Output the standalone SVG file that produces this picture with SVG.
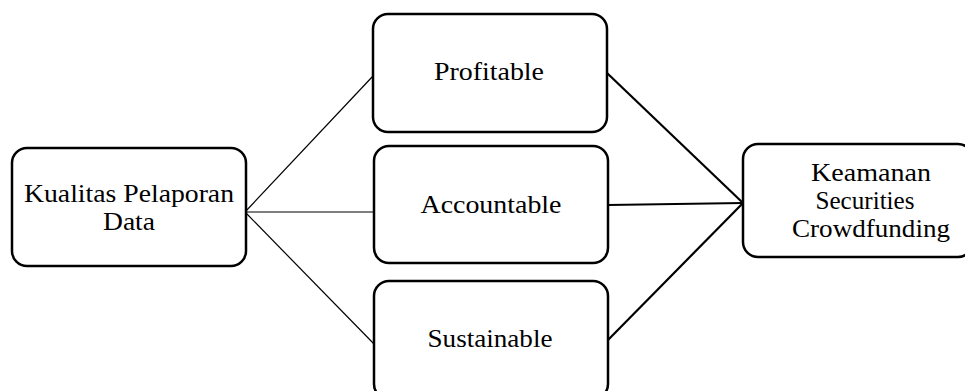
<svg xmlns="http://www.w3.org/2000/svg" width="965" height="391" viewBox="0 0 965 391">
<style>
.box{fill:#fff;stroke:#000;stroke-width:2.5}
.t{font-family:"Liberation Serif","Times New Roman",serif;font-size:26px;fill:#000;text-anchor:middle}
.thin{stroke:#000;stroke-width:1.2;fill:none}
.thick{stroke:#000;stroke-width:2.2;fill:none}
</style>
<rect width="965" height="391" fill="#fff"/>
<g id="connectors">
<line class="thin" x1="245" y1="212" x2="373" y2="76"/>
<line class="thin" x1="245" y1="212" x2="374" y2="212"/>
<line class="thin" x1="245" y1="212" x2="376" y2="346"/>
<line class="thick" x1="607" y1="73" x2="743" y2="203"/>
<line class="thick" x1="608" y1="205" x2="743" y2="203"/>
<line class="thick" x1="608" y1="340" x2="743" y2="203"/>
</g>
<g id="kualitas">
<rect class="box" x="12" y="148" width="234" height="118" rx="15"/>
<text class="t" x="129" y="202" textLength="210" lengthAdjust="spacingAndGlyphs">Kualitas Pelaporan</text>
<text class="t" x="129" y="230" textLength="52" lengthAdjust="spacingAndGlyphs">Data</text>
</g>
<g id="profitable">
<rect class="box" x="373" y="14" width="234" height="118" rx="15"/>
<text class="t" x="489" y="80" textLength="110" lengthAdjust="spacingAndGlyphs">Profitable</text>
</g>
<g id="accountable">
<rect class="box" x="374" y="146" width="234" height="117" rx="15"/>
<text class="t" x="491" y="213" textLength="141" lengthAdjust="spacingAndGlyphs">Accountable</text>
</g>
<g id="sustainable">
<rect class="box" x="374" y="281" width="234" height="118" rx="15"/>
<text class="t" x="490" y="347" textLength="125" lengthAdjust="spacingAndGlyphs">Sustainable</text>
</g>
<g id="keamanan">
<rect class="box" x="743" y="144" width="230" height="113" rx="15"/>
<text class="t" x="871" y="181" textLength="120" lengthAdjust="spacingAndGlyphs">Keamanan</text>
<text class="t" x="865" y="209" textLength="99" lengthAdjust="spacingAndGlyphs">Securities</text>
<text class="t" x="871" y="237" textLength="158" lengthAdjust="spacingAndGlyphs">Crowdfunding</text>
</g>
</svg>
